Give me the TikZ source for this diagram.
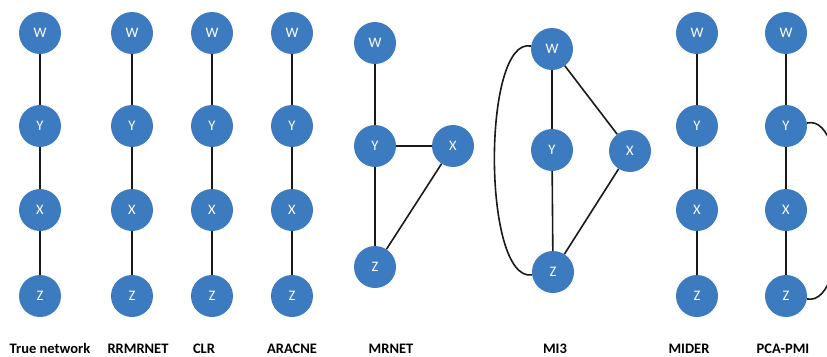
\documentclass[tikz,border=0pt]{standalone}
\usepackage{fontspec}
\setmainfont{Carlito}
\definecolor{nodeblue}{RGB}{61,123,192}
\begin{document}
\begin{tikzpicture}[x=1pt,y=-1pt,
  gnode/.style={circle,fill=nodeblue,draw=none,minimum size=42pt,inner sep=0pt,text=white,font=\fontsize{14.5}{14.5}\selectfont},
  edge/.style={line width=1.6pt,black!90},
  lab/.style={anchor=base,font=\fontsize{14.5}{14.5}\selectfont\bfseries}]
\useasboundingbox (0,0) rectangle (827,356);
\clip (0,0) rectangle (827,356);
% chains
\foreach \nm/\x in {tn/40,rr/132,clr/212,ar/292,mi/697,pca/786}{
  \node[gnode] (\nm W) at (\x,33) {W};
  \node[gnode] (\nm Y) at (\x,126) {Y};
  \node[gnode] (\nm X) at (\x,210) {X};
  \node[gnode] (\nm Z) at (\x,296) {Z};
  \draw[edge] (\nm W) -- (\nm Y);
  \draw[edge] (\nm Y) -- (\nm X);
  \draw[edge] (\nm X) -- (\nm Z);
}
% MRNET
\node[gnode] (mrW) at (375,43) {W};
\node[gnode] (mrY) at (375,146) {Y};
\node[gnode] (mrX) at (453,146) {X};
\node[gnode] (mrZ) at (375,267) {Z};
\draw[edge] (mrW) -- (mrY);
\draw[edge] (mrY) -- (mrX);
\draw[edge] (mrY) -- (mrZ);
\draw[edge] (mrX) -- (mrZ);
% MI3
\node[gnode] (m3W) at (552,49) {W};
\node[gnode] (m3Y) at (552,150) {Y};
\node[gnode] (m3X) at (630,151) {X};
\node[gnode] (m3Z) at (553,272) {Z};
\draw[edge] (m3W) -- (m3Y);
\draw[edge] (m3Y) -- (m3Z);
\draw[edge] (m3W) -- (m3X);
\draw[edge] (m3X) -- (m3Z);
\draw[edge] (m3W.172) .. controls (482,36) and (482,282) .. (m3Z.188);
% PCA-PMI loop
\draw[edge] (pcaY.8) .. controls (852,112) and (852,308) .. (pcaZ.-8);
% labels
\node[lab] (l1) at (50,353) {True network};
\node[lab] (l2) at (138,353) {RRMRNET};
\node[lab] (l3) at (204,353) {CLR};
\node[lab] (l4) at (292,353) {ARACNE};
\node[lab] (l5) at (391,353) {MRNET};
\node[lab] (l6) at (555,353) {MI3};
\node[lab] (l7) at (689,353) {MIDER};
\node[lab] (l8) at (783,353) {PCA-PMI};
\end{tikzpicture}
\end{document}
